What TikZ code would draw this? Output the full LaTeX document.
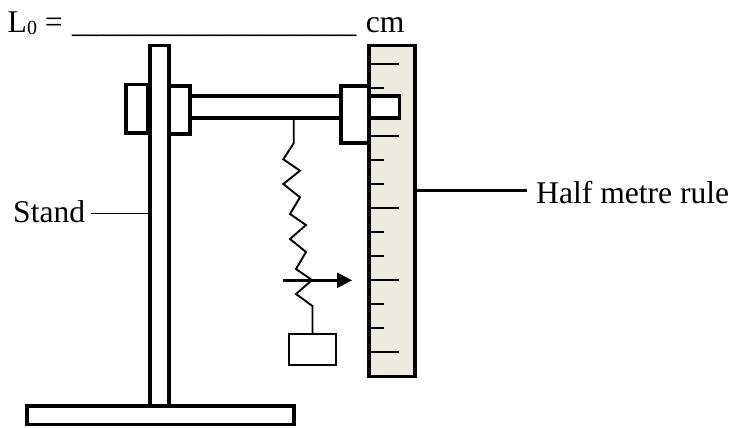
\documentclass[tikz,border=0pt]{standalone}
\usepackage{fontspec}
\setmainfont{Liberation Serif}
\usetikzlibrary{arrows.meta}
\definecolor{rulefill}{RGB}{236,233,222}
\tikzset{
	part/.style={draw,line width=3.7bp,fill=white,inner sep=0,outer sep=0},
	label/.style={inner sep=0,anchor=base west,font=\fontsize{31.6bp}{36bp}\selectfont},
	tick/.style={line width=1.6bp},
}
\begin{document}
\begin{tikzpicture}[x=1bp,y=-1bp]
\useasboundingbox (0,0) rectangle (732,427);
% stand
\node[part,minimum width=19bp,minimum height=362bp] (pole) at (159.5,226.5) {};
\node[part,minimum width=267bp,minimum height=18.5bp] (base) at (160.5,415.2) {};
% rule and its scale
\node[part,fill=rulefill,minimum width=46bp,minimum height=331bp] (rule) at (392,211) {};
\foreach \y/\len in {64/30,88/15,136/30,160/15,184/15,208/30,232/15,256/15,280/30,304/15,328/15,352/30}
	\draw[tick] (rule.west |- 0,\y) -- ++(\len,0);
% bar and clamps
\node[part,minimum width=210bp,minimum height=21.4bp] (bar) at (294.5,107) {};
\node[part,minimum width=22bp,minimum height=48.2bp] (clampback) at (137,108.6) {};
\node[part,minimum width=20.7bp,minimum height=47.7bp] (clampfront) at (179.3,109.8) {};
\node[part,minimum width=28.3bp,minimum height=57bp] (clamprule) at (354.8,114.8) {};
% spring with weight
\node[part,line width=1.8bp,minimum width=46.4bp,minimum height=30.4bp] (weight) at (312.5,349.5) {};
\coordinate (hook) at (293.7,118);
\draw[line width=1.9bp] (hook) -- (293.7,143.3) -- (283.3,159.3) -- (300,170.7) -- (283.3,184) -- (300,197.3)
	-- (290,214) -- (306,225) -- (290,239) -- (306,252) -- (296,269) -- (312,280) -- (296,294)
	-- (312.5,306) -- (weight.north);
% pointer
\coordinate (pointer) at (283.3,280.3);
\coordinate (pointertip) at (352,280.3);
\draw[line width=2.6bp,-{Triangle[length=15bp,width=15bp]}] (pointer) -- (pointertip);
% labels
\node[label] (length) at (7.5,32) {L\raisebox{-2bp}{\fontsize{20bp}{20bp}\selectfont 0} =\hspace{1.5bp} \_\_\_\_\_\_\_\_\_\_\_\_\_\_\_\_\_\_\hspace{1.5bp} cm};
\node[label] (stand) at (13,222) {Stand};
\node[label] (half) at (536,203) {Half metre rule};
\coordinate (standend) at (91,213.5);
\coordinate (halfend) at (527,190.7);
\draw[line width=1.6bp] (standend) -- (pole.west |- standend);
\draw[line width=2.5bp] (rule.east |- halfend) -- (halfend);
\end{tikzpicture}
\end{document}
